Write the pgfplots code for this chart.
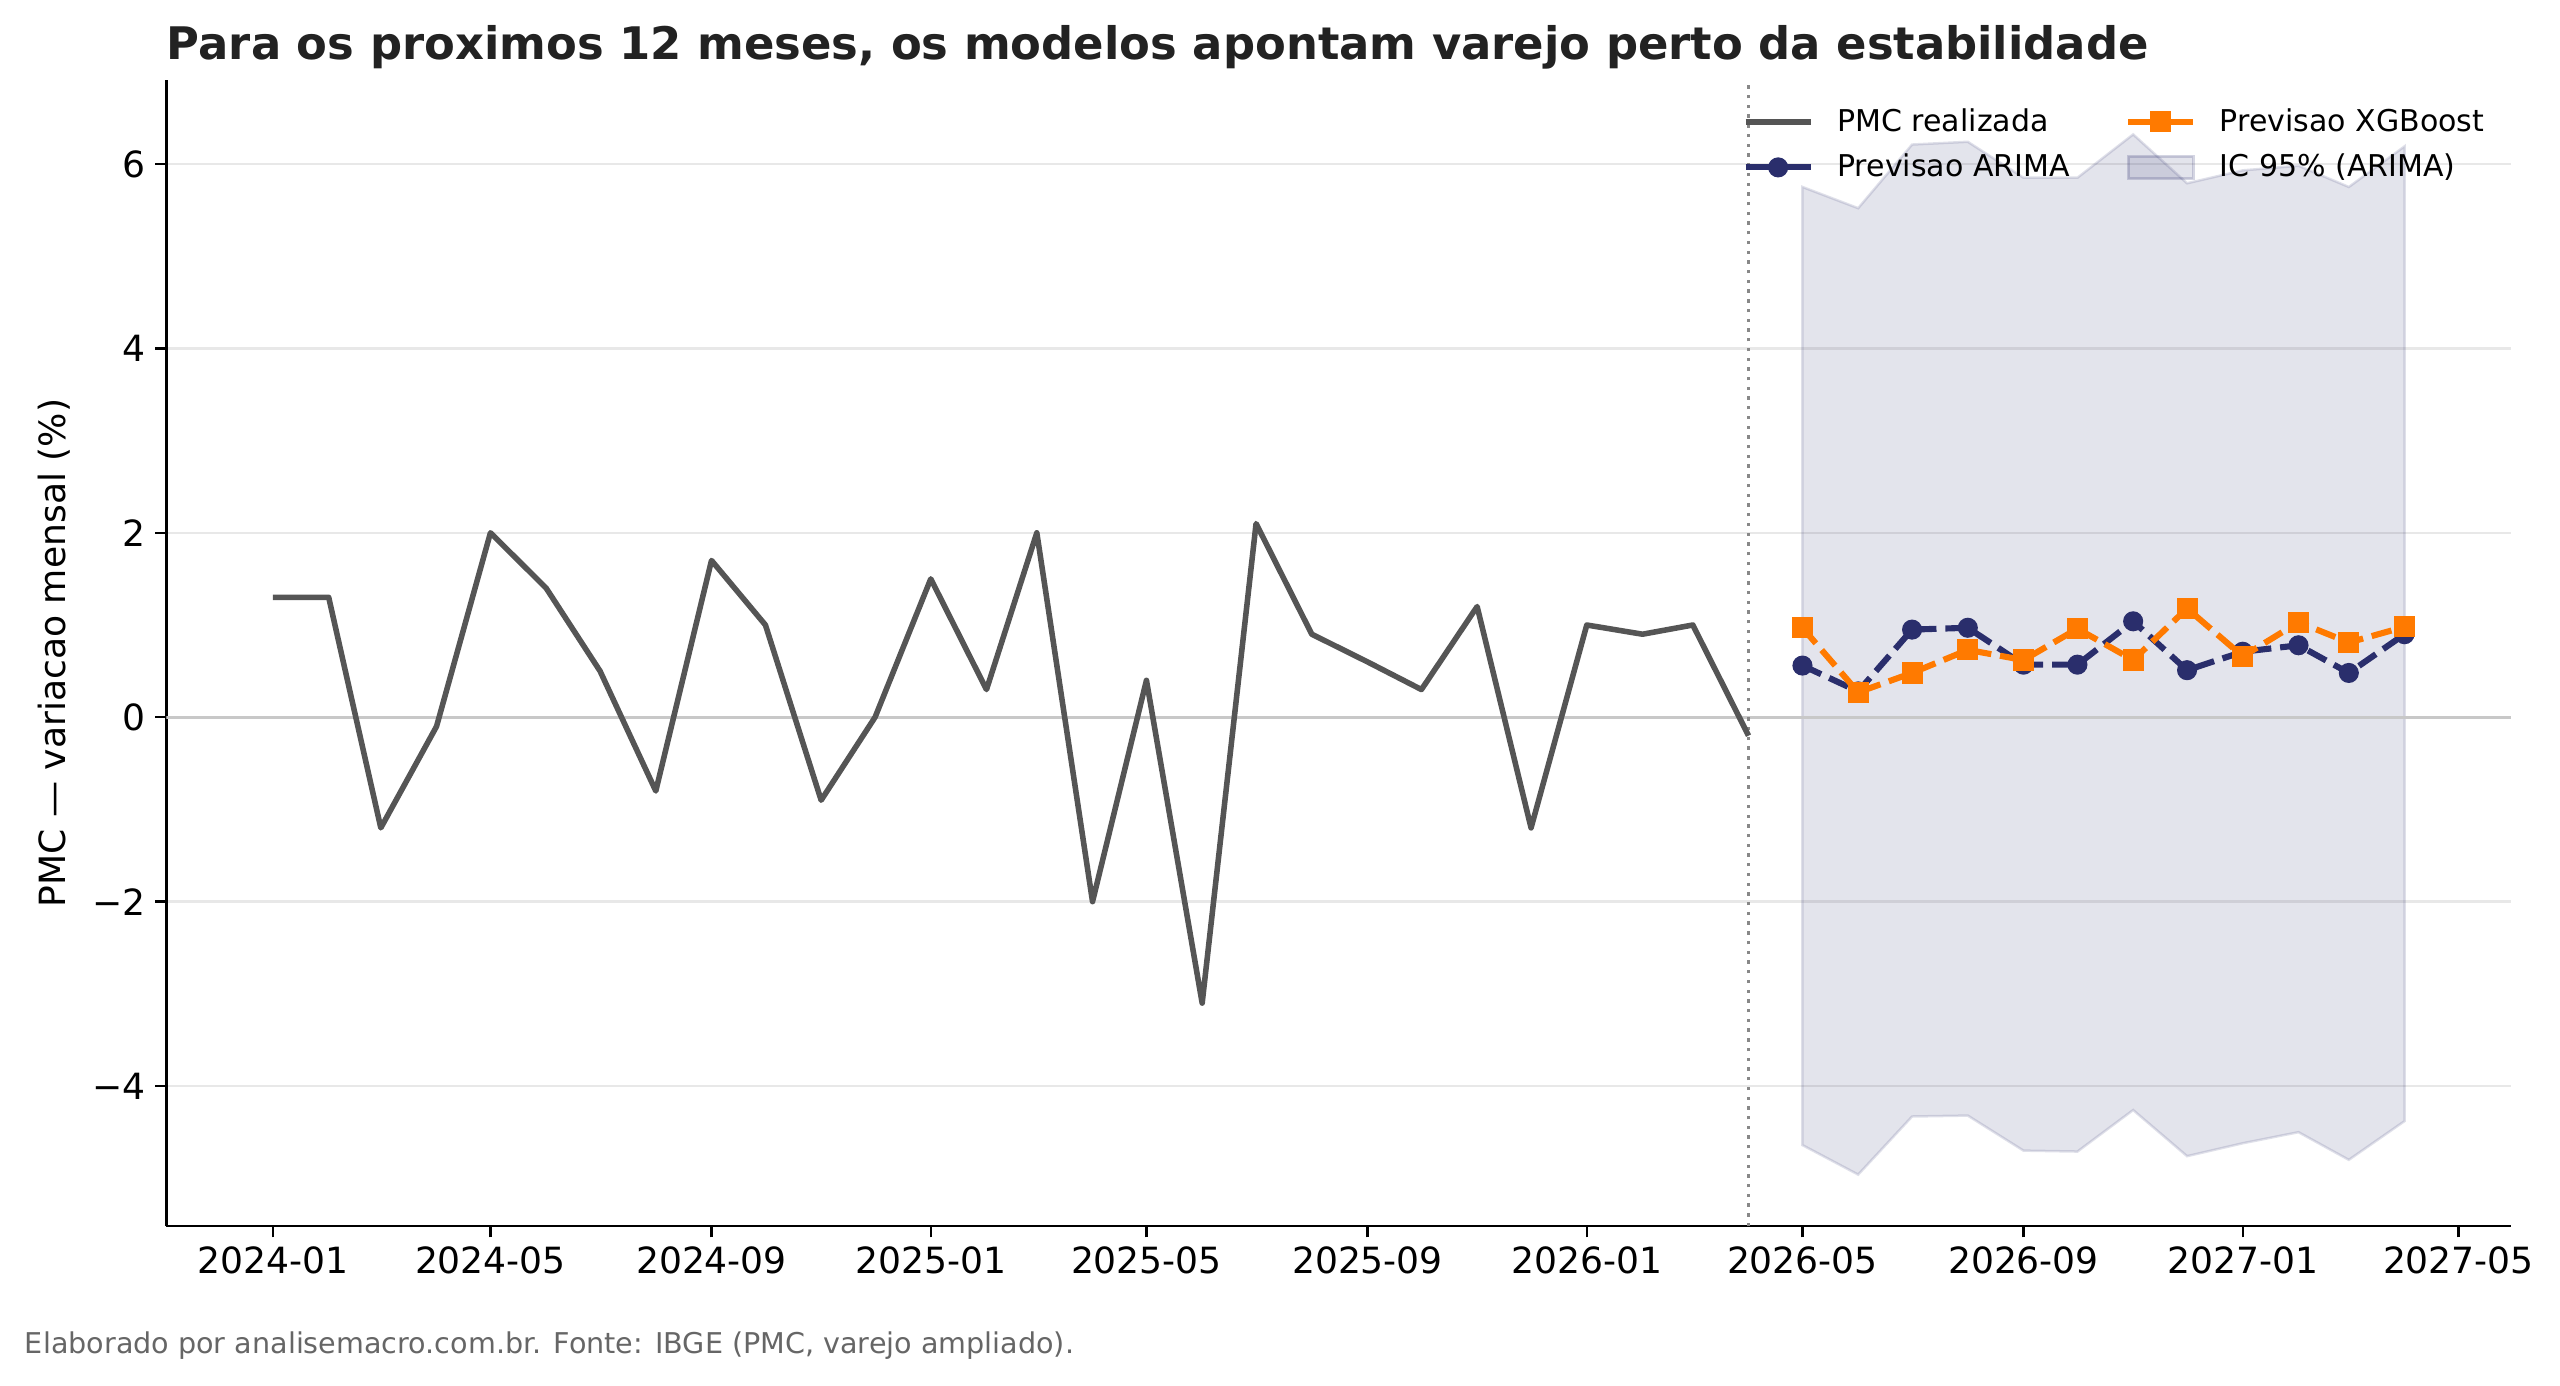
\documentclass[border=0pt]{standalone}
\usepackage{pgfplots}
\pgfplotsset{compat=1.18}
\usepackage{fontspec}
\setmainfont{DejaVu Sans}
\definecolor{pmc}{HTML}{555555}
\definecolor{arima}{HTML}{2A2E6C}
\definecolor{xgb}{HTML}{FF7A00}
\definecolor{gridc}{HTML}{E8E8E8}
\definecolor{zeroc}{HTML}{C8C8C8}
\definecolor{titlec}{HTML}{222222}
\definecolor{footc}{HTML}{666666}
\definecolor{vlinec}{HTML}{888888}

\pgfplotstableread{
d v
0 1.3
31 1.3
60 -1.2
91 -0.1
121 2.0
152 1.4
182 0.5
213 -0.8
244 1.7
274 1.0
305 -0.9
335 0.0
366 1.5
397 0.3
425 2.0
456 -2.0
486 0.4
517 -3.1
547 2.1
578 0.9
609 0.6
639 0.3
670 1.2
700 -1.2
731 1.0
762 0.9
790 1.0
821 -0.2
}\realizada

\pgfplotstableread{
d v
851 0.56
882 0.28
912 0.95
943 0.97
974 0.57
1004 0.57
1035 1.04
1065 0.51
1096 0.71
1127 0.78
1155 0.48
1186 0.90
}\arima

\pgfplotstableread{
d v
851 0.97
882 0.27
912 0.48
943 0.73
974 0.62
1004 0.96
1035 0.62
1065 1.18
1096 0.66
1127 1.03
1155 0.81
1186 0.98
}\xgb

\begin{document}
\begin{tikzpicture}
\path[use as bounding box] (-59.9pt,-57.2pt) rectangle (861.6pt,441.4pt);
\begin{axis}[
  name=ax,
  at={(0,0)}, anchor=south west,
  width=844pt, height=412.6pt, scale only axis,
  xmin=-59.3, xmax=1245.3, ymin=-5.52, ymax=6.91,
  axis x line*=bottom, axis y line*=left,
  axis line style={line width=0.9pt, black, -},
  tick align=outside, major tick length=4pt,
  every tick/.style={line width=0.9pt, black},
  xtick={0,121,244,366,486,609,731,851,974,1096,1216},
  xticklabels={2024-01,2024-05,2024-09,2025-01,2025-05,2025-09,2026-01,2026-05,2026-09,2027-01,2027-05},
  ytick={-4,-2,0,2,4,6},
  yticklabels={−4,−2,0,2,4,6},
  ymajorgrids, grid style={gridc, line width=0.9pt},
  ticklabel style={font=\fontsize{13}{15}\selectfont, black},
  ylabel={PMC — variacao mensal (\%)},
  ylabel style={font=\fontsize{13}{15}\selectfont, at={(axis description cs:-0.048,0.5)}, anchor=center},
  legend columns=2,
  legend cell align=left,
  legend style={draw=none, fill=none, at={(1,1)}, anchor=north east, xshift=-7.5pt, yshift=-8pt,
    font=\fontsize{10.8}{13}\selectfont, inner sep=0pt, row sep=2.7pt,
    /tikz/every odd column/.append style={column sep=6.5pt},
    /tikz/every even column/.append style={column sep=18pt}},
  legend image code/.code={\draw[mark repeat=2,mark phase=2,#1] plot coordinates {(0pt,0pt) (11.7pt,0pt) (23.4pt,0pt)};},
]
% CI band
\addplot[forget plot, fill=arima, fill opacity=0.13, draw=arima, draw opacity=0.15, line width=0.9pt] coordinates {
(851,5.75) (882,5.52) (912,6.21) (943,6.24) (974,5.85) (1004,5.85) (1035,6.32) (1065,5.79) (1096,5.93) (1127,5.98) (1155,5.75) (1186,6.19)
(1186,-4.38) (1155,-4.80) (1127,-4.50) (1096,-4.62) (1065,-4.76) (1035,-4.26) (1004,-4.71) (974,-4.70) (943,-4.32) (912,-4.33) (882,-4.96) (851,-4.64)
} -- cycle;
% zero line
\addplot[forget plot, zeroc, line width=1.1pt] coordinates {(-59.3,0) (1245.3,0)};
% vertical marker
\addplot[forget plot, vlinec, line width=1.3pt, dash pattern=on 1.2pt off 2.3pt] coordinates {(821,-5.52) (821,6.91)};
% realized
\addplot[forget plot, pmc, line width=2pt, line join=round] table[x=d,y=v] {\realizada};
% ARIMA
\addplot[forget plot, arima, line width=2.2pt, dash pattern=on 7.4pt off 3.2pt, mark=*, mark size=2.5pt, mark options={solid}] table[x=d,y=v] {\arima};
% XGBoost
\addplot[forget plot, xgb, line width=2.2pt, dash pattern=on 7.4pt off 3.2pt, mark=square*, mark size=2.7pt, mark options={solid}] table[x=d,y=v] {\xgb};

\addlegendimage{pmc, line width=2pt}
\addlegendentry{PMC realizada}
\addlegendimage{xgb, line width=2.2pt, mark=square*, mark size=2.7pt}
\addlegendentry{Previsao XGBoost}
\addlegendimage{arima, line width=2.2pt, mark=*, mark size=2.5pt}
\addlegendentry{Previsao ARIMA}
\addlegendimage{legend image code/.code={\draw[fill=arima, fill opacity=0.13, draw=arima, draw opacity=0.2, line width=0.9pt] (0pt,-4pt) rectangle (23.4pt,4pt);}}
\addlegendentry{IC 95\% (ARIMA)}
\end{axis}
\node[anchor=base west, inner sep=0pt, font=\fontsize{16.15}{19}\selectfont\bfseries, text=titlec] at ([yshift=7.2pt]ax.north west) {Para os proximos 12 meses, os modelos apontam varejo perto da estabilidade};
\node[anchor=base west, inner sep=0pt, font=\fontsize{10.3}{12}\selectfont, text=footc] at ([xshift=-51.1pt, yshift=-45.7pt]ax.south west) {Elaborado por analisemacro.com.br. Fonte: IBGE (PMC, varejo ampliado).};
\end{tikzpicture}
\end{document}
